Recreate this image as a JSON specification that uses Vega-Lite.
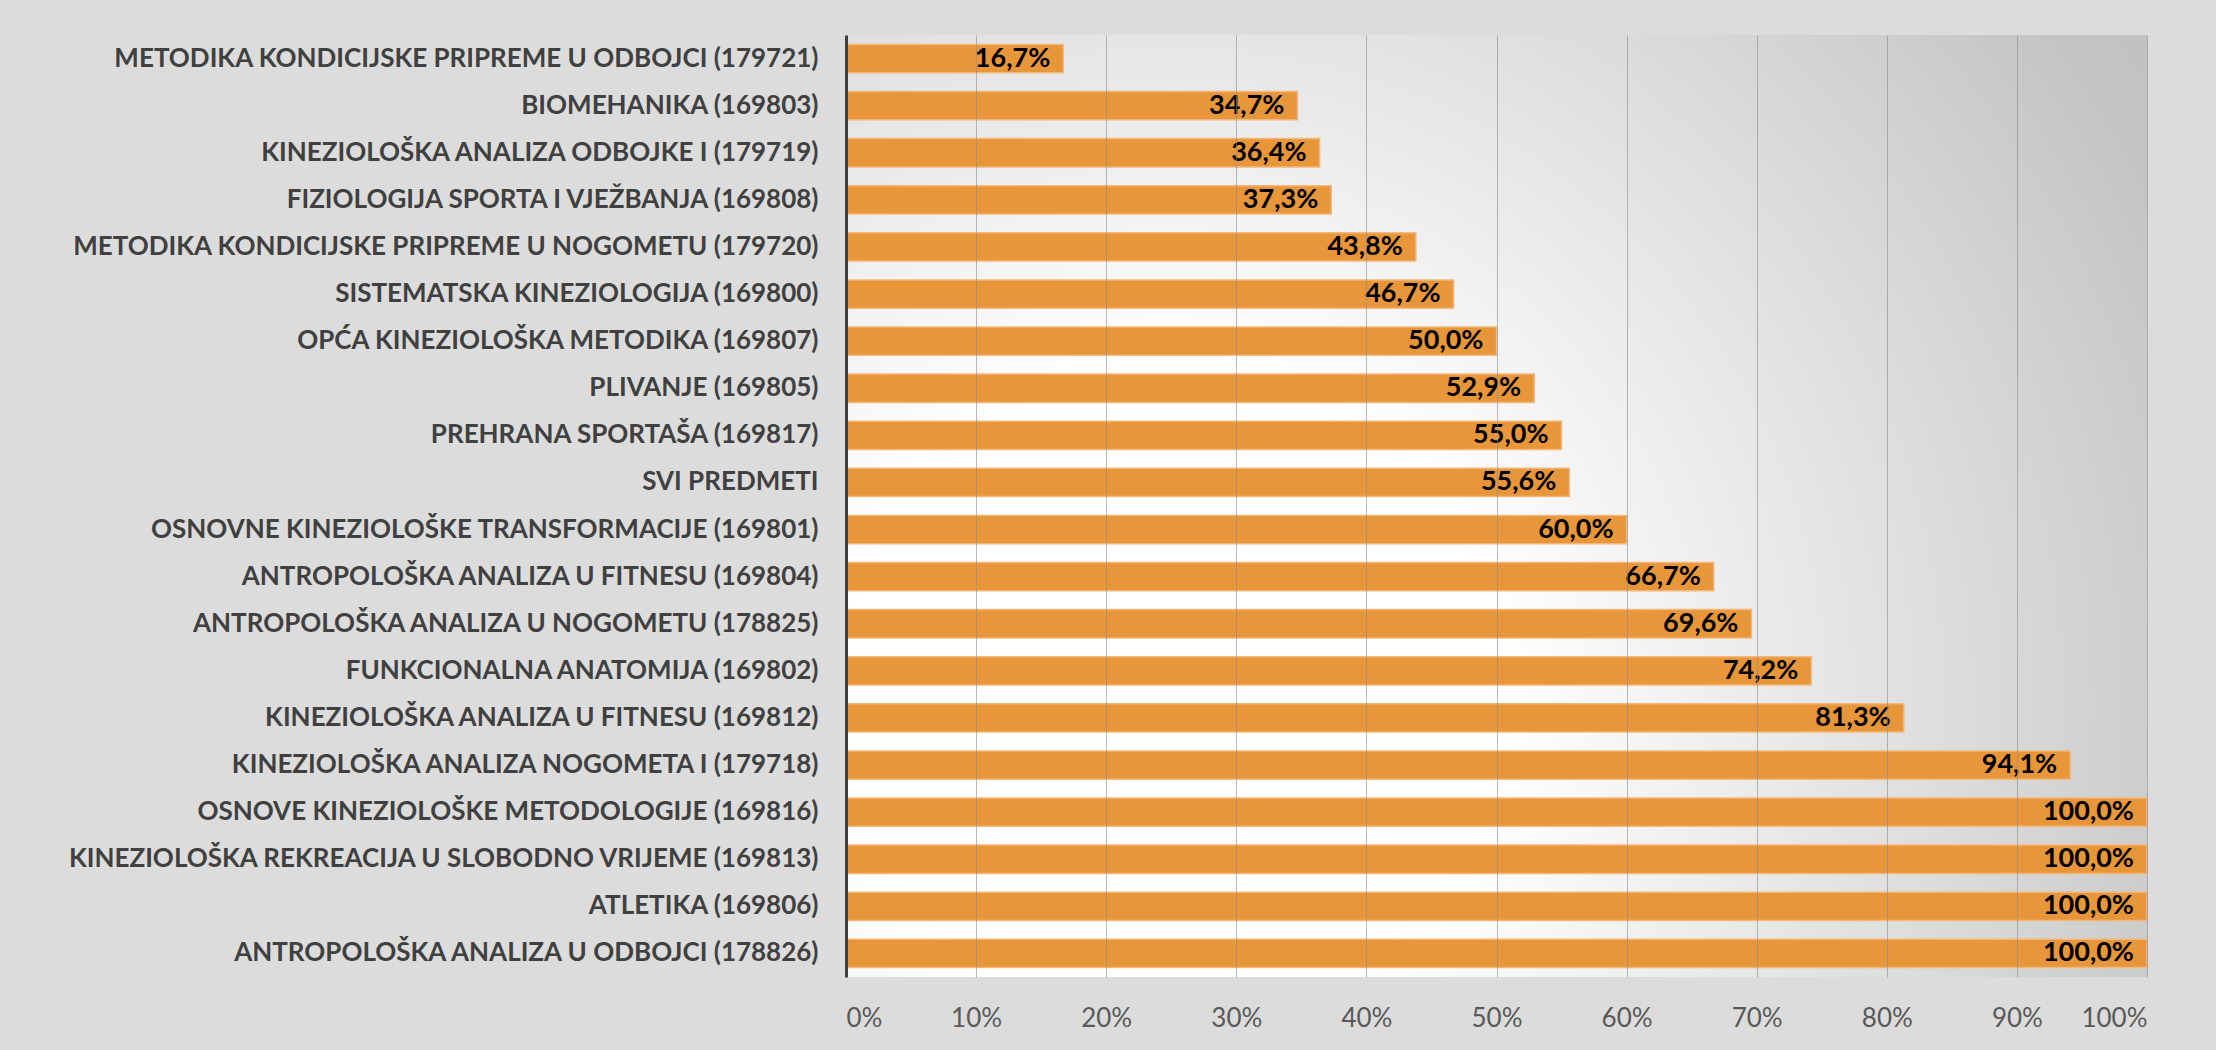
{
  "$schema": "https://vega.github.io/schema/vega-lite/v6.json",
  "width": 1301,
  "height": 942,
  "autosize": "none",
  "padding": {"left": 846, "top": 35, "right": 69, "bottom": 73},
  "background": "#dcdcdc",
  "config": {
    "locale": {"number": {"decimal": ",", "thousands": ".", "grouping": [3], "currency": ["", " €"]}},
    "font": "Lato"
  },
  "view": {
    "stroke": null,
    "fill": {
      "gradient": "radial",
      "x1": 0.25, "y1": 0.65, "r1": 0,
      "x2": 0.25, "y2": 0.65, "r2": 1,
      "stops": [
        {"offset": 0, "color": "#ffffff"},
        {"offset": 0.25, "color": "#ffffff"},
        {"offset": 0.85, "color": "#c4c4c4"},
        {"offset": 1, "color": "#bdbdbd"}
      ]
    }
  },
  "data": {
    "values": [
      {"predmet": "METODIKA KONDICIJSKE PRIPREME U ODBOJCI (179721)", "udio": 0.167},
      {"predmet": "BIOMEHANIKA (169803)", "udio": 0.347},
      {"predmet": "KINEZIOLOŠKA ANALIZA ODBOJKE I (179719)", "udio": 0.364},
      {"predmet": "FIZIOLOGIJA SPORTA I VJEŽBANJA (169808)", "udio": 0.373},
      {"predmet": "METODIKA KONDICIJSKE PRIPREME U NOGOMETU (179720)", "udio": 0.438},
      {"predmet": "SISTEMATSKA KINEZIOLOGIJA (169800)", "udio": 0.467},
      {"predmet": "OPĆA KINEZIOLOŠKA METODIKA (169807)", "udio": 0.5},
      {"predmet": "PLIVANJE (169805)", "udio": 0.529},
      {"predmet": "PREHRANA SPORTAŠA (169817)", "udio": 0.55},
      {"predmet": "SVI PREDMETI", "udio": 0.556},
      {"predmet": "OSNOVNE KINEZIOLOŠKE TRANSFORMACIJE (169801)", "udio": 0.6},
      {"predmet": "ANTROPOLOŠKA ANALIZA U FITNESU (169804)", "udio": 0.667},
      {"predmet": "ANTROPOLOŠKA ANALIZA U NOGOMETU (178825)", "udio": 0.696},
      {"predmet": "FUNKCIONALNA ANATOMIJA (169802)", "udio": 0.742},
      {"predmet": "KINEZIOLOŠKA ANALIZA U FITNESU (169812)", "udio": 0.813},
      {"predmet": "KINEZIOLOŠKA ANALIZA NOGOMETA I (179718)", "udio": 0.941},
      {"predmet": "OSNOVE KINEZIOLOŠKE METODOLOGIJE (169816)", "udio": 1.0},
      {"predmet": "KINEZIOLOŠKA REKREACIJA U SLOBODNO VRIJEME (169813)", "udio": 1.0},
      {"predmet": "ATLETIKA (169806)", "udio": 1.0},
      {"predmet": "ANTROPOLOŠKA ANALIZA U ODBOJCI (178826)", "udio": 1.0}
    ]
  },
  "encoding": {
    "y": {
      "field": "predmet",
      "type": "nominal",
      "sort": null,
      "scale": {"paddingInner": 0.4, "paddingOuter": 0.2},
      "axis": {
        "title": null,
        "ticks": false,
        "domain": true,
        "domainColor": "#404040",
        "domainWidth": 3,
        "labelFont": "Lato",
        "labelFontWeight": "bold",
        "labelFontSize": 26,
        "labelColor": "#404040",
        "labelPadding": 28,
        "labelLimit": 900,
        "labelOverlap": false,
        "zindex": 1
      }
    }
  },
  "layer": [
    {
      "mark": {"type": "bar", "color": "#E8963A", "stroke": "#F3B77A", "strokeWidth": 1.5},
      "encoding": {
        "x": {
          "field": "udio",
          "type": "quantitative",
          "scale": {"domain": [0, 1]},
          "axis": {
            "title": null,
            "format": ".0%",
            "values": [0, 0.1, 0.2, 0.3, 0.4, 0.5, 0.6, 0.7, 0.8, 0.9, 1],
            "labelOverlap": false,
            "domain": false,
            "ticks": false,
            "grid": true,
            "gridColor": "#8c8c8c",
            "gridOpacity": 0.6,
            "labelFont": "Lato",
            "labelFontSize": 26,
            "labelColor": "#595959",
            "labelPadding": 28,
            "zindex": 1
          }
        }
      }
    },
    {
      "mark": {"type": "text", "align": "right", "baseline": "middle", "dx": -13, "font": "Lato", "fontWeight": "bold", "fontSize": 27, "color": "#000000"},
      "encoding": {
        "x": {"field": "udio", "type": "quantitative"},
        "text": {"field": "udio", "type": "quantitative", "format": ".1%"}
      }
    }
  ]
}
